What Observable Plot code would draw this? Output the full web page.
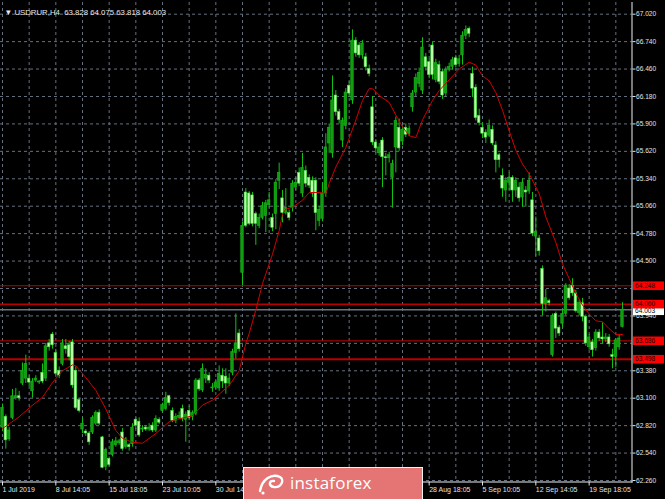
<!DOCTYPE html>
<html><head><meta charset="utf-8">
<script src="https://cdn.jsdelivr.net/npm/d3@7"></script>
<script src="https://cdn.jsdelivr.net/npm/@observablehq/plot@0.6"></script>
<style>
html,body{margin:0;padding:0;background:#000;}
#wrap{position:relative;width:665px;height:499px;overflow:hidden;background:#000;}
#logo{position:absolute;left:243px;top:467px;width:180px;height:33px;background:#e57474;border:1.5px solid #f2f2f2;border-bottom:none;box-sizing:border-box;color:#fff;font-family:"Open Sans",sans-serif;font-weight:400;font-size:17px;line-height:30px;}
#logo svg{position:absolute;left:12px;top:3px;}
#logo span{position:absolute;left:46px;top:0;letter-spacing:0.2px;}
</style></head><body>
<div id="wrap"><div id="chart"></div>
<div id="logo"><svg width="30" height="26" viewBox="0 0 30 26"><path d="M4,20 C6,8 16,2 24,6 C29,9 25,17 18,16 C12,15 13,9 18,10" fill="none" stroke="#fff" stroke-width="2.4" stroke-linecap="round"/><circle cx="7" cy="22" r="1.6" fill="#fff"/></svg><span>instaforex</span></div>
</div>
<script>
const symbolName = "USDRUR,H4";
const open = [62.80,62.91,62.68,62.90,63.10,63.12,63.25,63.30,63.30,63.17,63.28,63.26,63.36,63.30,63.66,63.75,63.56,63.38,63.45,63.63,63.64,63.67,63.38,63.08,62.78,62.76,62.74,62.75,62.84,62.95,62.70,62.40,62.48,62.52,62.62,62.64,62.75,62.60,62.62,62.63,62.88,62.86,62.78,62.80,62.78,62.82,62.77,62.88,62.97,62.99,63.12,62.97,62.87,62.90,62.99,62.88,62.97,62.91,62.94,63.28,63.18,63.30,63.33,63.20,63.21,63.20,63.33,63.32,63.25,63.36,63.56,63.76,64.38,65.20,65.19,65.17,64.98,64.86,64.94,64.96,65.07,64.94,64.98,65.32,65.14,64.99,64.99,65.04,65.25,65.40,65.19,65.42,65.35,65.32,65.32,64.91,64.93,65.19,65.70,65.60,66.19,66.02,65.73,65.88,66.29,66.14,66.75,66.70,66.60,66.58,66.46,66.07,65.71,65.60,65.73,65.56,65.55,65.35,65.66,65.86,65.72,65.86,65.80,66.07,66.22,66.31,66.24,66.58,66.53,66.70,66.35,66.50,66.43,66.21,66.45,66.48,66.57,66.51,66.60,66.80,66.87,66.41,66.27,65.98,65.86,65.81,65.78,65.84,65.68,65.58,65.37,65.22,65.30,65.35,65.22,65.25,65.15,65.22,65.21,65.12,64.75,64.73,64.42,64.06,64.09,63.54,63.96,63.82,63.86,63.96,64.22,64.25,64.17,63.97,64.07,63.93,63.62,63.67,63.61,63.77,63.72,63.70,63.72,63.54,63.52,63.62,63.828];
const high = [63.04,62.93,62.80,63.19,63.20,63.17,63.46,63.54,63.33,63.30,63.33,63.28,63.45,63.66,63.70,63.77,63.60,63.42,63.70,63.70,63.68,63.70,63.42,63.10,62.90,62.78,62.76,62.92,62.97,62.98,62.71,62.59,62.50,62.68,62.70,62.68,62.79,62.70,62.64,62.84,62.90,62.90,62.82,62.82,62.84,62.85,62.92,62.90,63.05,63.16,63.13,63.00,62.94,62.96,63.03,62.96,63.02,62.97,63.30,63.30,63.45,63.40,63.36,63.25,63.29,63.43,63.40,63.40,63.35,63.60,63.96,63.80,64.90,65.24,65.21,65.20,65.00,64.98,65.10,65.12,65.20,64.98,65.33,65.50,65.22,65.24,65.02,65.32,65.35,65.45,65.60,65.47,65.38,65.36,65.35,65.06,65.30,65.80,65.90,66.39,66.24,66.05,65.96,66.26,66.33,66.86,66.78,66.73,66.75,66.62,66.50,66.18,65.74,65.70,65.76,65.60,65.61,65.53,65.97,65.95,65.88,65.90,65.88,66.24,66.41,66.47,66.78,66.62,66.56,66.73,66.56,66.54,66.46,66.48,66.52,66.58,66.60,66.60,66.84,66.90,66.89,66.48,66.30,66.05,65.91,65.84,65.94,65.88,65.72,65.60,65.44,65.35,65.40,65.37,65.35,65.30,65.34,65.26,65.40,65.20,64.95,64.76,64.45,64.21,64.11,63.96,63.98,63.84,64.00,64.27,64.26,64.32,64.20,64.10,64.12,63.95,63.75,63.70,63.80,63.80,63.87,63.76,63.75,63.60,63.71,63.74,64.075];
const low = [62.76,62.58,62.66,62.88,63.08,63.07,63.23,63.25,63.22,63.10,63.26,63.24,63.25,63.27,63.58,63.60,63.33,63.30,63.43,63.55,63.48,63.20,62.98,62.95,62.74,62.71,62.62,62.73,62.82,62.82,62.38,62.36,62.40,62.50,62.60,62.62,62.56,62.58,62.56,62.60,62.78,62.70,62.75,62.76,62.76,62.75,62.75,62.83,62.95,62.97,63.02,62.85,62.84,62.88,62.86,62.65,62.87,62.87,62.92,63.17,63.16,63.25,63.25,63.16,63.18,63.17,63.20,63.14,63.22,63.33,63.50,63.57,64.25,64.84,64.86,64.85,64.66,64.83,64.92,64.79,65.04,64.80,64.82,65.23,64.89,64.97,64.91,65.00,65.22,65.26,65.15,65.25,65.24,65.15,64.81,64.85,64.90,65.15,65.60,65.55,65.98,65.90,65.66,65.84,66.17,66.10,66.58,66.57,66.56,66.44,66.38,65.68,65.60,65.57,65.25,65.37,65.50,65.04,65.40,65.62,65.68,65.76,65.77,66.02,66.18,66.27,66.20,66.44,66.36,66.35,66.32,66.30,66.15,66.18,66.43,66.45,66.47,66.48,66.50,66.76,66.78,66.17,65.93,65.88,65.75,65.70,65.76,65.68,65.40,65.45,65.15,65.10,65.22,65.10,65.15,65.10,65.05,65.05,65.18,64.75,64.55,64.55,63.94,63.98,64.04,63.52,63.71,63.73,63.82,63.94,64.10,64.14,63.97,63.94,63.88,63.63,63.59,63.52,63.58,63.68,63.65,63.67,63.62,63.40,63.41,63.59,63.818];
const close = [63.00,62.67,62.77,63.12,63.12,63.10,63.38,63.45,63.26,63.27,63.30,63.27,63.27,63.63,63.62,63.64,63.35,63.33,63.66,63.60,63.52,63.23,63.00,62.97,62.84,62.74,62.65,62.90,62.95,62.84,62.39,62.57,62.42,62.65,62.66,62.66,62.58,62.68,62.60,62.80,62.82,62.72,62.79,62.78,62.80,62.77,62.89,62.85,63.03,63.10,63.05,62.87,62.91,62.92,62.89,62.93,62.90,62.95,63.28,63.19,63.40,63.34,63.28,63.21,63.26,63.35,63.27,63.25,63.30,63.57,63.66,63.60,64.86,64.86,64.88,64.88,64.88,64.94,65.06,65.09,65.12,64.84,65.30,65.40,64.99,65.04,64.94,65.29,65.30,65.29,65.45,65.29,65.27,65.19,64.99,65.02,65.19,65.66,65.86,66.14,66.02,65.94,65.93,66.22,66.21,66.75,66.62,66.60,66.72,66.48,66.41,65.71,65.65,65.66,65.56,65.55,65.58,65.49,65.93,65.65,65.84,65.79,65.85,66.21,66.37,66.42,66.68,66.48,66.40,66.40,66.52,66.33,66.19,66.45,66.48,66.55,66.50,66.56,66.80,66.86,66.82,66.26,65.96,65.91,65.80,65.76,65.88,65.70,65.53,65.53,65.24,65.32,65.35,65.22,65.32,65.14,65.30,65.20,65.32,64.78,64.80,64.60,64.06,64.12,64.07,63.94,63.81,63.76,63.96,64.25,64.12,64.17,63.99,64.07,63.93,63.66,63.72,63.59,63.77,63.71,63.70,63.72,63.65,63.52,63.69,63.71,64.003];
const maIndex = [0,5,8,12,15,18,21,22,25,28,31,34,36,39,42,46,50,53,57,60,63,65,68,71,73,74,76,78,81,83,84,85,87,90,92,95,97,98,100,103,106,108,110,111,113,116,118,120,122,124,126,129,131,134,137,140,142,144,146,148,150,152,154,156,158,161,163,166,168,170,172,174,176,178,180,182,184,186];
const maValue = [62.79,62.91,63.00,63.11,63.26,63.38,63.44,63.43,63.31,63.18,62.99,62.77,62.69,62.65,62.64,62.74,62.86,62.89,62.92,63.03,63.08,63.14,63.23,63.38,63.66,63.76,64.00,64.27,64.57,64.81,64.98,65.03,65.05,65.12,65.20,65.20,65.19,65.29,65.46,65.66,65.94,66.14,66.26,66.26,66.19,66.12,65.99,65.87,65.78,65.76,65.94,66.14,66.24,66.35,66.46,66.53,66.50,66.39,66.34,66.22,66.04,65.83,65.63,65.49,65.39,65.19,64.95,64.69,64.47,64.32,64.17,64.05,63.96,63.89,63.88,63.81,63.75,63.75];
const priceTicks = [67.020,66.740,66.460,66.180,65.900,65.620,65.340,65.060,64.780,64.500,64.220,63.940,63.660,63.380,63.100,62.820,62.540,62.260];
const priceLabels = [67.020,66.740,66.460,66.180,65.900,65.620,65.340,65.060,64.780,64.500,63.940,63.380,63.100,62.820,62.540,62.260];
const gridBars = [0,8,16,24,32,40,48,56,64,72,80,88,96,104,112,120,128,136,144,152,160,168,176,184];
const dateBars = [0,16,32,48,64,128,144,160,176];
const dateLabels = ["1 Jul 2019","8 Jul 14:05","15 Jul 18:05","23 Jul 10:05","30 Jul 14:05","28 Aug 18:05","5 Sep 10:05","12 Sep 14:05","19 Sep 18:05"];
const levelValues = [64.248,64.060,63.686,63.498];
const bidPrice = 64.003;

const candles = open.map((o, i) => ({i, o, h: high[i], l: low[i], c: close[i]}));
const ma = maIndex.map((k, j) => ({k, v: maValue[j]}));
const fmt = d3.format(".3f");
const last = candles[candles.length - 1];
const titleText = "\u25BC " + symbolName + "  " + [last.o, last.h, last.l, last.c].map(fmt).join(" ");
const gridColor = "#66717f";
const labelBox = {draw(ctx) { ctx.rect(1, -4.3, 31, 8.6); }};
const levelWidth = v => v === 63.498 ? 2 : (v === 64.060 ? 1.5 : 1);

const chart = Plot.plot({
  width: 665, height: 499,
  marginTop: 2, marginRight: 33.5, marginBottom: 17.5, marginLeft: 0,
  style: {background: "#000", color: "#e0e0e0", fontFamily: "Liberation Sans, Arial, sans-serif", fontSize: "7px"},
  x: {domain: [0, 186], range: [2, 622], axis: null},
  y: {domain: [62.26, 67.02], range: [480, 13.7], axis: null},
  marks: [
    Plot.ruleY(priceTicks, {stroke: gridColor, strokeDasharray: "3,3"}),
    Plot.ruleX(gridBars, {stroke: gridColor, strokeDasharray: "3,3"}),
    Plot.ruleY(levelValues, {stroke: "#b80000", strokeWidth: levelWidth}),
    Plot.ruleY([bidPrice], {stroke: "#68737f", strokeWidth: 1.6}),
    Plot.ruleX(candles, {x: "i", y1: "l", y2: "h", stroke: "#12c012", strokeWidth: 1}),
    Plot.rect(candles, {x1: d => d.i - 0.37, x2: d => d.i + 0.37, y1: "o", y2: "c",
      fill: d => d.c >= d.o ? "#119d11" : "#c4ffae",
      stroke: d => d.c >= d.o ? "#16b816" : "#3ee83e", strokeWidth: 0.6}),
    Plot.line(ma, {x: "k", y: "v", stroke: "#d20000", strokeWidth: 1}),
    Plot.axisY(priceLabels, {anchor: "right", tickSize: 3, tickPadding: 1, tickFormat: fmt, fontSize: 6.6, color: "#e4e4e4"}),
    Plot.axisX(dateBars, {anchor: "bottom", tickSize: 4, tickPadding: 1, textAnchor: "start", dx: 0, tickFormat: d => dateLabels[dateBars.indexOf(d)], fontSize: 7, color: "#e4e4e4"}),
    Plot.frame({anchor: "right", stroke: "#f0f0f0"}),
    Plot.frame({anchor: "bottom", stroke: "#f0f0f0"}),
    Plot.dot([bidPrice], {y: d => d, frameAnchor: "right", dy: 1, symbol: labelBox, fill: "#ffffff", stroke: "none"}),
    Plot.text([bidPrice], {y: d => d, frameAnchor: "right", dx: 3, dy: 1.5, textAnchor: "start", text: d => fmt(d), fill: "#000", fontSize: 6.6}),
    Plot.dot(levelValues, {y: d => d, frameAnchor: "right", symbol: labelBox, fill: "#ff0000", stroke: "none"}),
    Plot.text(levelValues, {y: d => d, frameAnchor: "right", dx: 3, textAnchor: "start", text: d => fmt(d), fill: "#200000", fontSize: 6.6}),
    Plot.text([titleText], {frameAnchor: "top-left", dx: 4, dy: 7, textAnchor: "start", fill: "#e8e8e8", fontSize: 7.8})
  ]
});
document.getElementById("chart").appendChild(chart);
</script>
</body></html>
